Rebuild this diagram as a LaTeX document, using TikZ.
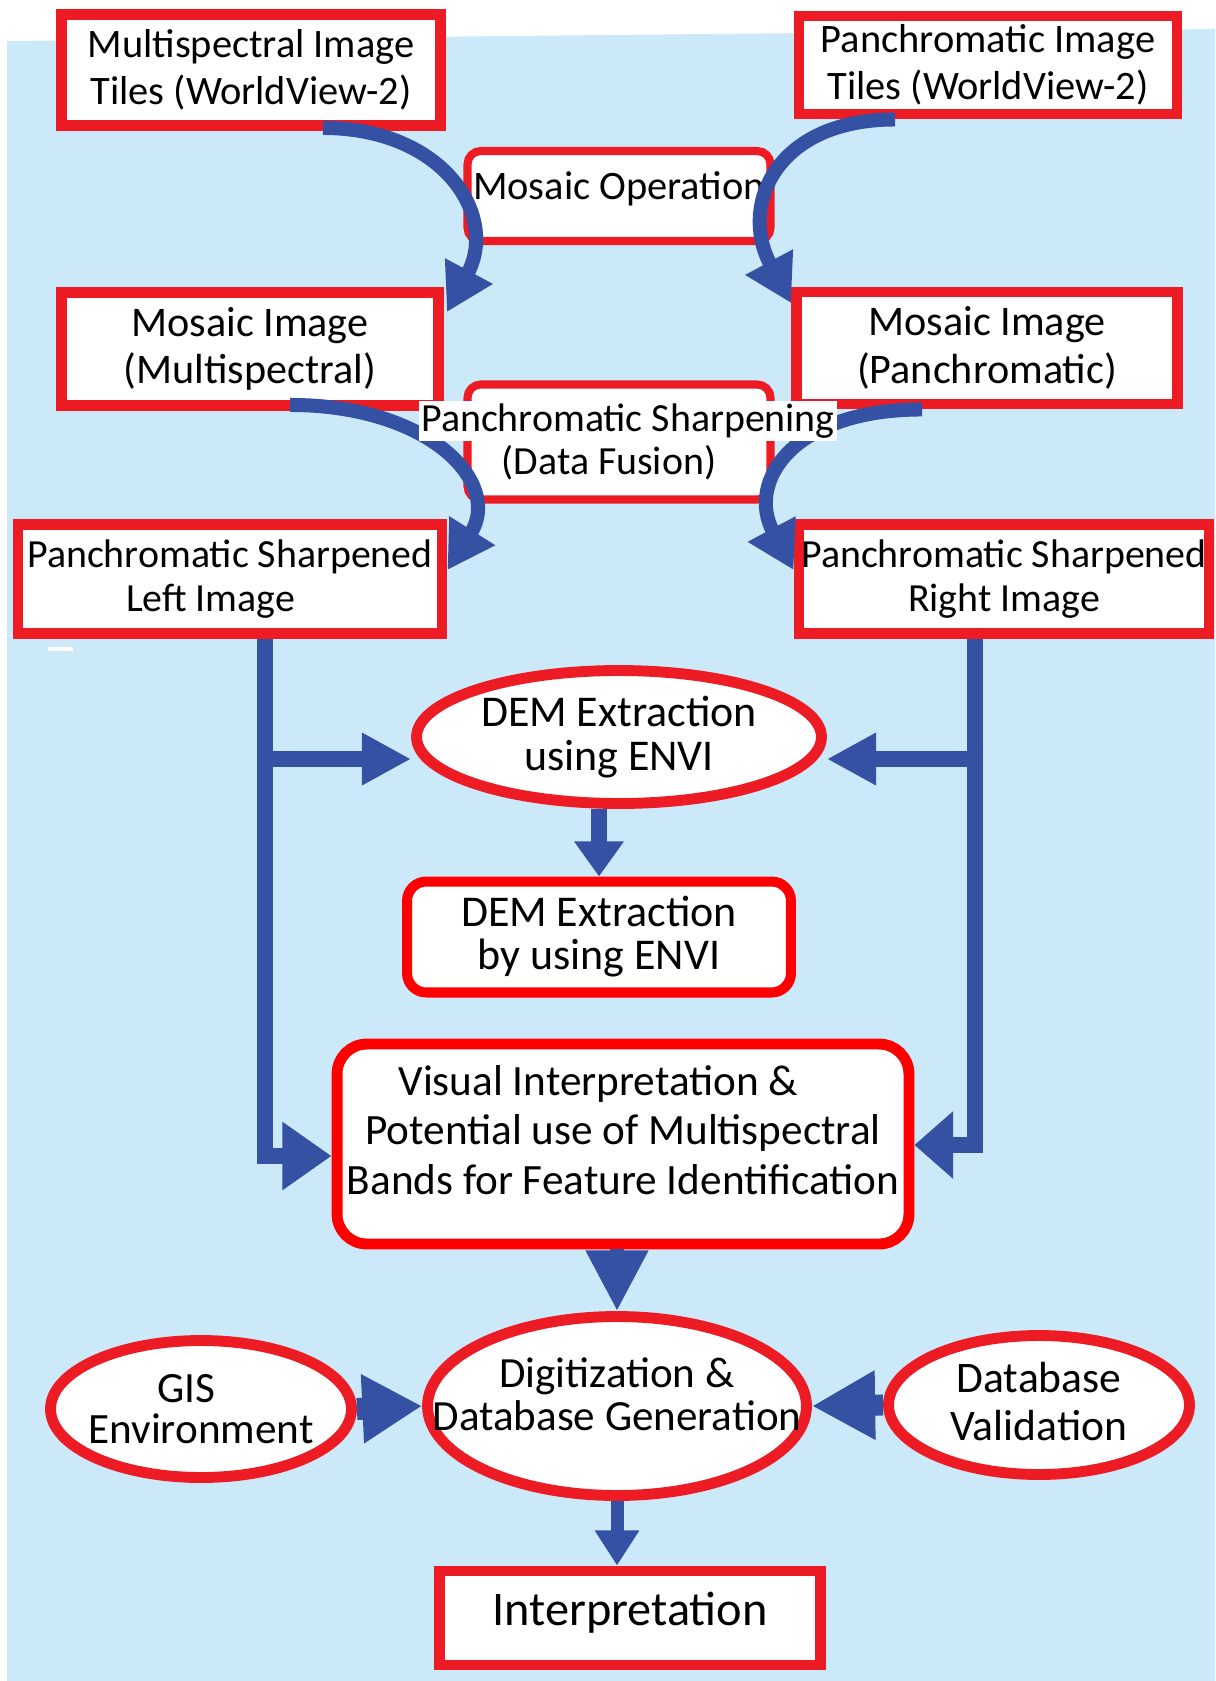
\documentclass[tikz,border=0pt]{standalone}
\usepackage{fontspec}
\setmainfont{Carlito}
\usetikzlibrary{arrows.meta,shapes.geometric,positioning}

\definecolor{skyback}{HTML}{CCE9F9}
\definecolor{boxred}{HTML}{ED1C24}
\definecolor{purered}{HTML}{FF0000}
\definecolor{flowblue}{HTML}{3551A3}

\newcommand{\fsz}[2]{\fontsize{#1}{#2}\selectfont}

\tikzstyle{block} = [rectangle, draw=boxred, line width=6.2pt, fill=white, align=center, inner sep=0pt, font=\fsz{23pt}{27pt}]
\tikzstyle{rblock} = [block, line width=4.6pt, rounded corners=7.5pt]
\tikzstyle{oval} = [ellipse, draw=boxred, line width=6.2pt, fill=white, inner sep=0pt]
\tikzstyle{ovaltext} = [align=center, inner sep=0pt, font=\fsz{24.5pt}{24.5pt}]
\tikzstyle{arrow} = [draw=flowblue, line width=9.5pt]
\tikzstyle{flowcurve} = [draw=flowblue, line width=8pt, -{Triangle[length=26.5pt,width=29pt]}]

\begin{document}
\begin{tikzpicture}[x=0.02cm, y=-0.02cm]
    \useasboundingbox (0,0) rectangle (1215,1681);
    \fill[skyback] (7,41) -- (1215,29) -- (1215,1681) -- (7,1681) -- cycle;
    \fill[white] (48,647) rectangle (73,651);

    % image tiles
    \node[block, minimum width=7.58cm, minimum height=2.22cm] (mstiles) at (251,70) {Multispectral Image\\Tiles (WorldView-2)};
    \node[block, minimum width=7.56cm, minimum height=1.96cm] (pantiles) at (988,65) {Panchromatic Image\\Tiles (WorldView-2)};
    \node[rblock, minimum width=6.06cm, minimum height=1.8cm, text depth=11.5pt] (mosaicop) at (619,196) {Mosaic Operation};

    % mosaics
    \node[block, minimum width=7.54cm, minimum height=2.26cm, font=\fsz{24pt}{27pt}] (mosaicms) at (250,349) {Mosaic Image\\(Multispectral)};
    \node[block, minimum width=7.62cm, minimum height=2.24cm, font=\fsz{24pt}{27pt}] (mosaicpan) at (987,348) {Mosaic Image\\(Panchromatic)};
    \node[rblock, minimum width=6.06cm, minimum height=2.3cm] (sharp) at (619,442) {};

    % sharpened images
    \node[block, minimum width=8.48cm, minimum height=2.18cm, font=\fsz{22.7pt}{25.5pt}] (psleft) at (230,579) {Panchromatic Sharpened\\Left Image\hspace*{22pt}};
    \node[block, minimum width=8.2cm, minimum height=2.18cm, font=\fsz{22.7pt}{25.5pt}] (psright) at (1004,579) {Panchromatic Sharpened\\Right Image};

    % DEM
    \node[oval, minimum width=8.1cm, minimum height=2.66cm, label={[ovaltext, font=\fsz{25pt}{25pt}]center:DEM Extraction\\using ENVI}] (demell) at (619,737) {};
    \node[rblock, draw=purered, line width=5.7pt, rounded corners=11pt, minimum width=7.68cm, minimum height=2.22cm, font=\fsz{25pt}{24.5pt}] (dembox) at (599,937) {DEM Extraction\\by using ENVI};
    \node[rblock, draw=purered, line width=6.2pt, rounded corners=17pt, minimum width=11.44cm, minimum height=4cm, label={[ovaltext, yshift=8pt, font=\fsz{24.6pt}{28pt}]center:Visual Interpretation \&\hspace*{28pt}\\Potential use of Multispectral\\Bands for Feature Identification}] (visual) at (623,1144) {};

    % database
    \node[oval, minimum width=7.58cm, minimum height=3.58cm, label={[ovaltext, yshift=6.5pt]center:Digitization \&\\Database Generation}] (digit) at (617,1406) {};
    \node[oval, minimum width=6.02cm, minimum height=2.74cm, label={[ovaltext, font=\fsz{24.6pt}{23pt}]center:GIS\hspace*{17pt}\\Environment}] (gis) at (201,1409) {};
    \node[oval, minimum width=6.02cm, minimum height=2.78cm, label={[ovaltext, yshift=2pt, font=\fsz{24.8pt}{27pt}]center:Database\\Validation}] (dbval) at (1039,1405) {};
    \node[block, minimum width=7.62cm, minimum height=1.88cm, font=\fsz{27.5pt}{30pt}, text depth=10pt] (interp) at (630,1618) {Interpretation};

    % curved arrows
    \draw[flowcurve] ([xshift=1.44cm, yshift=0.06cm]mstiles.south) .. controls +(120,0) and +(52,-97) .. ([xshift=0.06cm, yshift=-0.5cm]mosaicms.north east);
    \draw[flowcurve] ([xshift=-1.86cm]pantiles.south) .. controls +(-120,0) and +(-52,-97) .. ([yshift=-0.33cm]mosaicpan.north west);
    \draw[flowcurve] ([xshift=0.8cm, yshift=0.12cm]mosaicms.south) .. controls +(140,0) and +(55,-87) .. ([yshift=-1.02cm]psleft.north east);
    \draw[flowcurve] ([xshift=-1.3cm]mosaicpan.south) .. controls +(-130,0) and +(-47,-88) .. ([yshift=-1.02cm]psright.north west);
    \node[fill=white, inner sep=1.5pt, font=\fsz{22.7pt}{25pt}] (sharptitle) at (628,421) {Panchromatic Sharpening};
    \node[font=\fsz{22.7pt}{25pt}] (fusion) at (609,463) {(Data Fusion)};

    % lines
    \coordinate (lspine) at (265,1156);
    \coordinate (rspine) at (975,1145);
    \coordinate (lbranch) at (265,759);
    \coordinate (rbranch) at (975,759);
    \draw[arrow, -{Triangle[length=28pt,width=37pt]}] (psleft.south -| lspine) -- (lspine) -- (lspine -| visual.west);
    \draw[arrow, -{Triangle[length=22pt,width=37pt]}] (psright.south -| rspine) -- (rspine) -- (rspine -| visual.east);
    \draw[arrow, -{Triangle[length=28pt,width=28pt]}] (lbranch) -- (lbranch -| demell.west);
    \draw[arrow, -{Triangle[length=28pt,width=28pt]}] (rbranch) -- (rbranch -| demell.east);
    \draw[arrow, line width=9pt, -{Triangle[length=20pt,width=27pt]}] (dembox.north |- demell.south) -- (dembox.north);
    \draw[arrow, line width=8pt, -{Triangle[length=34.5pt,width=33.5pt]}] (digit.north |- visual.south) -- (digit.north);
    \draw[arrow, line width=12.5pt, -{Triangle[length=34pt,width=37pt]}] (gis.east) -- (digit.west);
    \draw[arrow, line width=12pt, -{Triangle[length=36pt,width=37pt]}] (dbval.west) -- (digit.east);
    \draw[arrow, line width=7.4pt, -{Triangle[length=20pt,width=24pt]}] (digit.south) -- (digit.south |- interp.north);
\end{tikzpicture}
\end{document}
